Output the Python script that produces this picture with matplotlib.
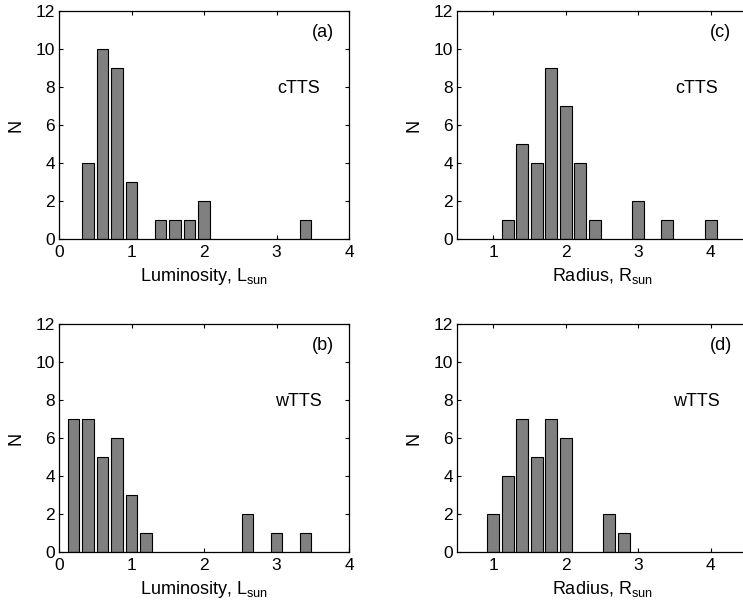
import matplotlib
matplotlib.use("Agg")
import matplotlib.pyplot as plt

plt.rcParams['font.family'] = ['Liberation Sans', 'DejaVu Sans']
plt.rcParams['mathtext.fontset'] = 'custom'
plt.rcParams['mathtext.rm'] = 'Liberation Sans'
plt.rcParams['mathtext.it'] = 'Liberation Sans:italic'

# Histogram bin centres and counts
lum_ctts_bins = [0.4, 0.6, 0.8, 1.0, 1.4, 1.6, 1.8, 2.0, 3.4]
lum_ctts_counts = [4, 10, 9, 3, 1, 1, 1, 2, 1]

lum_wtts_bins = [0.2, 0.4, 0.6, 0.8, 1.0, 1.2, 2.6, 3.0, 3.4]
lum_wtts_counts = [7, 7, 5, 6, 3, 1, 2, 1, 1]

rad_ctts_bins = [1.2, 1.4, 1.6, 1.8, 2.0, 2.2, 2.4, 3.0, 3.4, 4.0]
rad_ctts_counts = [1, 5, 4, 9, 7, 4, 1, 2, 1, 1]

rad_wtts_bins = [1.0, 1.2, 1.4, 1.6, 1.8, 2.0, 2.6, 2.8]
rad_wtts_counts = [2, 4, 7, 5, 7, 6, 2, 1]

lum_ticks = [0, 1, 2, 3, 4]
rad_ticks = [1, 2, 3, 4]
n_ticks = [0, 2, 4, 6, 8, 10, 12]

W, H = 743, 608
fig = plt.figure(figsize=(W / 100, H / 100), dpi=100)


def make_axes(left_px, top_px, width_px=290, height_px=228.3):
    return fig.add_axes([left_px / W, (H - top_px - height_px) / H,
                         width_px / W, height_px / H])


panels = [
    (59, 11, lum_ctts_bins, lum_ctts_counts, (0, 4), lum_ticks,
     r'Luminosity, L$_{\mathrm{sun}}$', '(a)', 'cTTS'),
    (59, 324, lum_wtts_bins, lum_wtts_counts, (0, 4), lum_ticks,
     r'Luminosity, L$_{\mathrm{sun}}$', '(b)', 'wTTS'),
    (457, 11, rad_ctts_bins, rad_ctts_counts, (0.5, 4.5), rad_ticks,
     r'Radius, R$_{\mathrm{sun}}$', '(c)', 'cTTS'),
    (457, 324, rad_wtts_bins, rad_wtts_counts, (0.5, 4.5), rad_ticks,
     r'Radius, R$_{\mathrm{sun}}$', '(d)', 'wTTS'),
]

for left, top, bins, counts, xlim, xticks, xlabel, tag, group in panels:
    ax = make_axes(left, top)
    ax.bar(bins, counts, width=0.165, color='#808080',
           edgecolor='black', linewidth=0.8, zorder=2)
    ax.set_xlim(*xlim)
    ax.set_ylim(0, 12)
    ax.set_xticks(xticks)
    ax.set_yticks(n_ticks)
    ax.tick_params(direction='in', length=3, width=0.8, labelsize=12.5,
                   top=True, right=True)
    ax.tick_params(axis='x', pad=4)
    ax.tick_params(axis='y', pad=3)
    for s in ax.spines.values():
        s.set_linewidth(0.9)
    ax.set_xlabel(xlabel, fontsize=13)
    ax.xaxis.set_label_coords(0.5, -0.115)
    ax.set_ylabel('N', fontsize=13, va='center')
    ax.yaxis.set_label_coords(-0.148, 0.5)
    ax.text(0.873, 0.904, tag, transform=ax.transAxes, fontsize=13,
            ha='left', va='center')
    ax.text(0.827, 0.66, group, transform=ax.transAxes, fontsize=13,
            ha='center', va='center')

fig.savefig('out.png', dpi=100)
